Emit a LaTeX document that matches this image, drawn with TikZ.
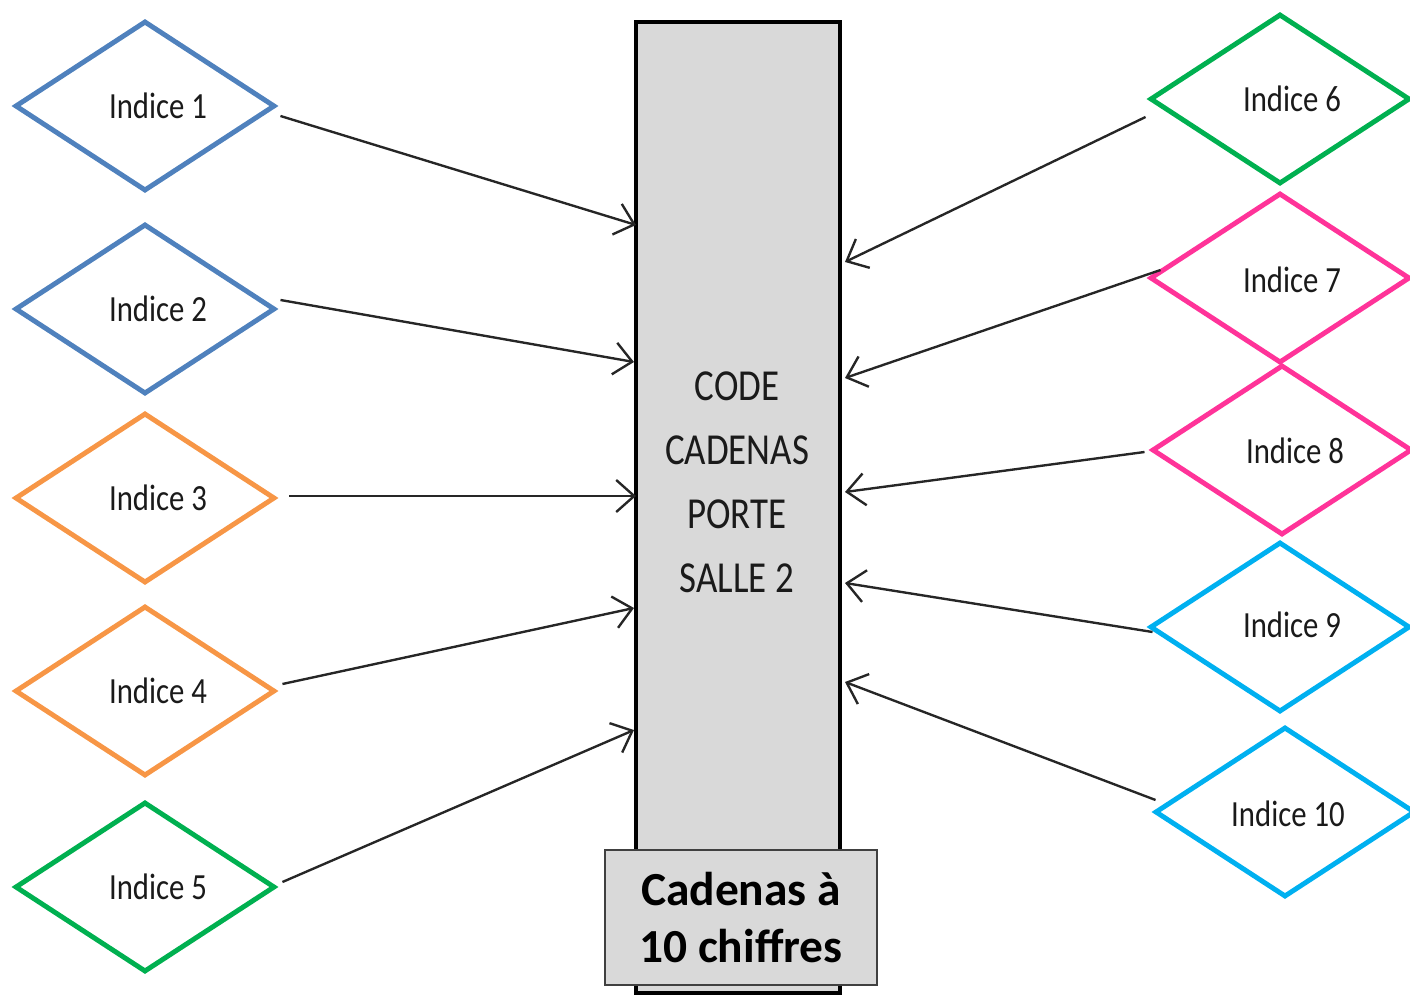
\documentclass[tikz,border=0pt]{standalone}
\usepackage{fontspec}
\setmainfont{Carlito}
\usetikzlibrary{shapes.geometric,arrows.meta,calc}
\definecolor{cblue}{HTML}{4F81BD}
\definecolor{corange}{HTML}{F79646}
\definecolor{cgreen}{HTML}{00B050}
\definecolor{cpink}{HTML}{FF3399}
\definecolor{ccyan}{HTML}{00B0F0}
\definecolor{lgray}{HTML}{D9D9D9}
\definecolor{dgray}{HTML}{404040}
\definecolor{txt}{HTML}{1A1A1A}
\newcommand{\tallt}[1]{\scalebox{1}[1.2]{#1}}
\begin{document}
\begin{tikzpicture}[x=0.2mm,y=-0.2mm,
  ind/.style={diamond, draw=#1, line width=2.8pt, minimum width=52mm, minimum height=34mm, inner sep=0pt},
  indtext/.style={font=\fontsize{17.5}{20}\selectfont, text=txt, inner sep=0pt},
  link/.style={draw=black!85, line width=1.35pt, -{Straight Barb[length=3.6mm,width=6.4mm,line width=1.35pt]}},
  lockbox/.style={draw=black, fill=lgray, line width=2.2pt, minimum width=40.8mm, minimum height=194.2mm, inner sep=0pt},
  capbox/.style={draw=dgray, fill=lgray, line width=1.1pt, minimum width=54.4mm, minimum height=27mm, inner sep=0pt, align=center, font=\fontsize{27}{32.4}\selectfont\bfseries}
]
\useasboundingbox (0,0) rectangle (1410,996);
% central lock
\node[lockbox] (lock) at (738,507.5) {};
\node[font=\fontsize{21}{30.3}\selectfont, text=txt, inner sep=0pt] (code) at (737,484) {\tallt{\begin{tabular}{@{}c@{}}CODE\\CADENAS\\PORTE\\SALLE 2\end{tabular}}};
\node[capbox] (cap) at (741,917.5) {Cadenas à\\10 chiffres};
% left diamonds
\node[ind=cblue] (d1) at (145,106) {};
\node[indtext] (l1) at (158,106) {\tallt{Indice 1}};
\node[ind=cblue] (d2) at (145,309) {};
\node[indtext] (l2) at (158,309) {\tallt{Indice 2}};
\node[ind=corange] (d3) at (145,498) {};
\node[indtext] (l3) at (158,498) {\tallt{Indice 3}};
\node[ind=corange] (d4) at (145,691) {};
\node[indtext] (l4) at (158,691) {\tallt{Indice 4}};
\node[ind=cgreen] (d5) at (145,887) {};
\node[indtext] (l5) at (158,887) {\tallt{Indice 5}};
% right diamonds
\node[ind=cgreen] (d6) at (1280,99) {};
\node[indtext] (l6) at (1292,99) {\tallt{Indice 6}};
\node[ind=cpink] (d7) at (1280,278) {};
\node[indtext] (l7) at (1292,280) {\tallt{Indice 7}};
\node[ind=cpink] (d8) at (1282,450) {};
\node[indtext] (l8) at (1295,451) {\tallt{Indice 8}};
\node[ind=ccyan] (d9) at (1280,627) {};
\node[indtext] (l9) at (1292,625) {\tallt{Indice 9}};
\node[ind=ccyan] (d10) at (1285,812) {};
\node[indtext] (l10) at (1288,814) {\tallt{Indice 10}};
% targets
\coordinate (t1) at (636,225);
\coordinate (t2) at (634,362);
\coordinate (t3) at (636,496);
\coordinate (t4) at (634,608);
\coordinate (t5) at (634,730);
\coordinate (t6) at (845,262);
\coordinate (t7) at (845,378);
\coordinate (t8) at (845,492);
\coordinate (t9) at (845,583);
\coordinate (t10) at (845,682);
% arrows
\draw[link] ($(d1.east)+(3,10)$) -- (t1);
\draw[link] ($(d2.east)+(3,-9)$) -- (t2);
\draw[link] ($(d3.east)+(12,-2)$) -- (t3);
\draw[link] ($(d4.east)+(5,-7)$) -- (t4);
\draw[link] ($(d5.east)+(5,-5)$) -- (t5);
\draw[link] ($(d6.west)+(-2,18)$) -- (t6);
\draw[link] ($(d7.west)+(13,-8)$) -- (t7);
\draw[link] ($(d8.west)+(-5,2)$) -- (t8);
\draw[link] ($(d9.west)+(5,5)$) -- (t9);
\draw[link] ($(d10.west)+(3,-12)$) -- (t10);
\end{tikzpicture}
\end{document}
